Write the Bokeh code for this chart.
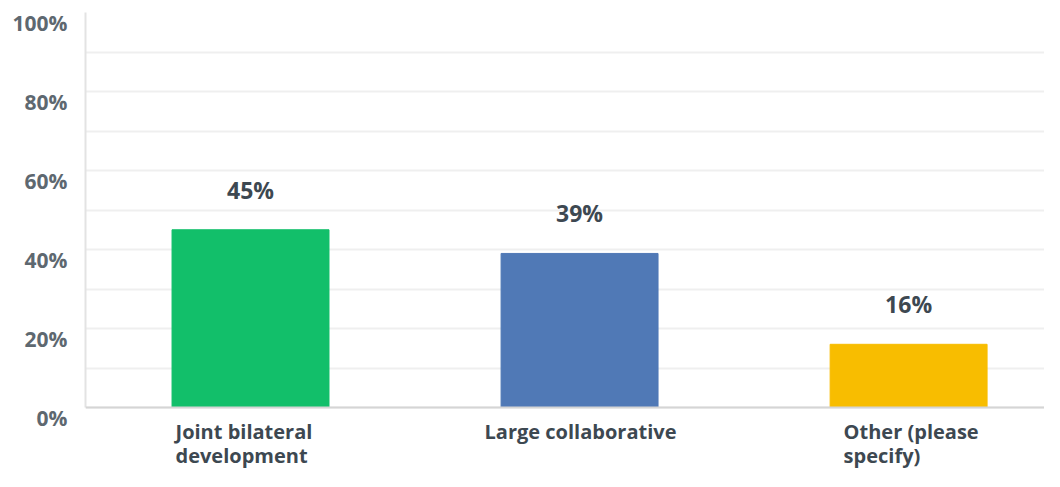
from bokeh.plotting import figure
from bokeh.models import ColumnDataSource, FixedTicker, Range1d, LinearAxis, Span
from bokeh.core.properties import value
from bokeh.embed import file_html
from bokeh.resources import INLINE

categories = ["Joint bilateral\ndevelopment", "Large collaborative", "Other (please\nspecify)"]
percents = [45, 39, 16]
colors = ["#12bf6a", "#5079b6", "#f8bd00"]
y_ticks = [0, 20, 40, 60, 80, 100]
y_tick_labels = ["0%", "20%", "40%", "60%", "80%", "100%"]
grid_ticks = list(range(0, 101, 10))

FONT = "Open Sans"
W, H = 1044, 471
TOP, LEFT = 12, 85
AXIS_PX = 395            # pixels from 0% to 100%
X0, X1 = 0.4985, 3.413
units_per_px = 100 / AXIS_PX
Y0 = -(H - TOP - AXIS_PX) * units_per_px   # frame continues below the 0% line
LABEL_SHIFT = 10 * units_per_px            # tick labels sit 10px under their grid line

# approximate half-width (px) of each category label block, so lines are left-aligned but the block is centred
def half_block(text, px_per_char=10.0):
    return max(len(line) for line in text.split("\n")) * px_per_char / 2

xpos = [i + 1 for i in range(len(categories))]
src = ColumnDataSource(dict(
    x=xpos,
    top=percents,
    color=colors,
    label=[f"{v}%" for v in percents],
    cat=categories,
    zero=[0] * len(categories),
    cat_dx=[-half_block(c) for c in categories],
))

p = figure(width=W, height=H, output_backend="svg", toolbar_location=None,
           x_range=Range1d(X0, X1), y_range=Range1d(Y0, 100),
           x_axis_location=None,
           min_border_left=LEFT, min_border_right=0, min_border_top=TOP, min_border_bottom=0)
p.outline_line_color = None

p.xgrid.grid_line_color = None
p.ygrid.ticker = FixedTicker(ticks=grid_ticks)
p.ygrid.grid_line_color = "#efefef"
p.ygrid.grid_line_width = 2

p.vbar(x="x", top="top", bottom=0, width=0.477, color="color", source=src)
p.add_layout(Span(location=0, dimension="width", line_color="#d5d5d5", line_width=2))

p.text(x="x", y="top", text="label", source=src, text_align="center", text_baseline="middle",
       y_offset=-40, text_font=value(FONT), text_font_size="23px", text_font_style="bold",
       text_color="#3d4851")

# category labels under the baseline (lines left-aligned within a centred block)
p.text(x="x", y="zero", text="cat", source=src, x_offset="cat_dx", y_offset=10,
       text_align="left", text_baseline="top", text_line_height=0.92,
       text_font=value(FONT), text_font_size="20px", text_font_style="bold",
       text_color="#3d4851")

# y axis line (0..100), no ticks
p.yaxis.ticker = FixedTicker(ticks=[])
p.yaxis.bounds = (0, 100)
p.yaxis.major_tick_out = 0
p.yaxis.major_tick_in = 0
p.yaxis.major_label_standoff = 0
p.yaxis.minor_tick_line_color = None
p.yaxis.axis_line_color = "#e3e3e3"
p.yaxis.axis_line_width = 2

# y tick labels on a shifted range so they sit below their grid lines
p.extra_y_ranges = {"lbl": Range1d(Y0 + LABEL_SHIFT, 100 + LABEL_SHIFT)}
lbl_axis = LinearAxis(y_range_name="lbl", ticker=FixedTicker(ticks=y_ticks),
                      major_label_overrides={t: s for t, s in zip(y_ticks, y_tick_labels)},
                      axis_line_color=None, major_tick_line_color=None, minor_tick_line_color=None,
                      major_tick_out=0, major_tick_in=0, major_label_standoff=18,
                      major_label_text_font=FONT, major_label_text_font_size="21px",
                      major_label_text_font_style="bold", major_label_text_color="#5e6870")
p.add_layout(lbl_axis, "left")

open("out.html", "w").write(file_html(p, INLINE))
